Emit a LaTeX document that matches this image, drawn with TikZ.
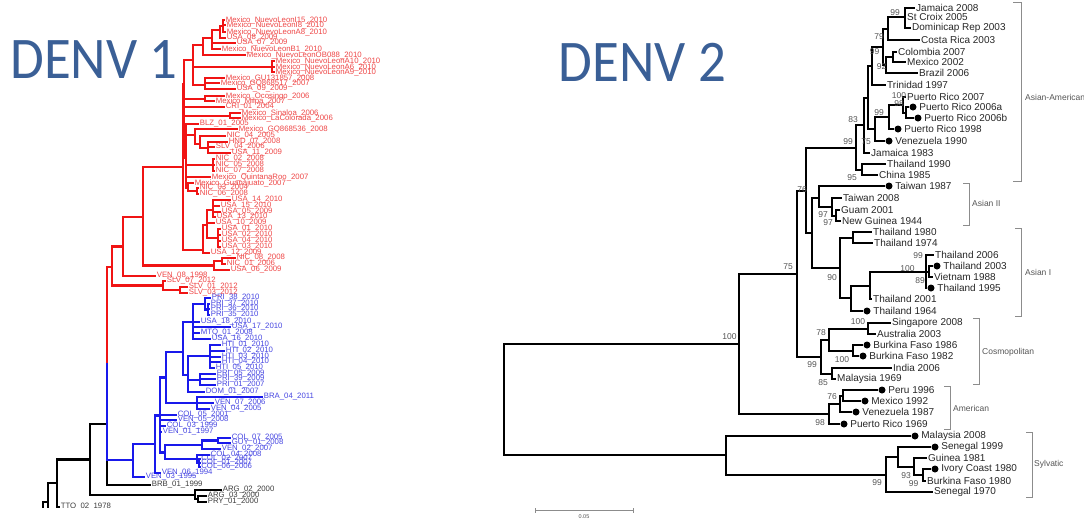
\documentclass[tikz,border=0pt]{standalone}
\usepackage{fontspec}
\setmainfont{Liberation Sans}
\newfontfamily\titlefont{Carlito}
\usetikzlibrary{positioning}

\definecolor{denvblue}{RGB}{58,95,150}
\definecolor{lred}{RGB}{240,20,20}
\definecolor{lblue}{RGB}{25,25,235}
\definecolor{labred}{RGB}{238,70,70}
\definecolor{labblue}{RGB}{70,70,225}
\definecolor{labgray}{RGB}{60,60,60}
\definecolor{bsgray}{RGB}{85,85,85}
\definecolor{brgray}{RGB}{140,140,140}

\tikzset{
  denvtitle/.style={font=\titlefont\fontsize{59}{61}\selectfont, text=denvblue, inner sep=0pt,
    xscale=0.93, transform shape},
  tiplab/.style={anchor=west, inner sep=1pt, font=\fontsize{10}{12}\selectfont, text=black!85},
  tipdot/.style={circle, fill, inner sep=0pt, minimum size=7pt,
    label={[tiplab, label distance=1.5pt]right:#1}},
  bs/.style={font=\fontsize{8.5}{10}\selectfont, text=bsgray, inner sep=0pt},
  cladelab/.style={anchor=west, inner sep=0pt, font=\fontsize{8.5}{10}\selectfont, text=bsgray},
  bracket/.style={draw=brgray, line width=0.8pt},
  branch/.style={draw=black, line width=2pt},
  smlab/.style={anchor=west, inner sep=0.6pt, font=\fontsize{7.8}{8}\selectfont},
  redlab/.style={smlab, text=labred},
  bluelab/.style={smlab, text=labblue},
  blklab/.style={smlab, text=labgray},
  redbr/.style={draw=lred, line width=2.3pt},
  bluebr/.style={draw=lblue, line width=2.3pt},
  blkbr/.style={draw=black, line width=2.3pt},
}

\begin{document}
\begin{tikzpicture}[x=1pt, y=-1pt]
  \useasboundingbox (0,0) rectangle (1084,523);

  % titles
  \node[denvtitle] (denv1) at (94,60) {DENV 1};
  \node[denvtitle] (denv2) at (642.5,62.5) {DENV 2};

  % ---------------- DENV 1 ----------------
  \begin{scope}
    \clip (0,0) rectangle (480,507.5);

    % internal nodes
    \coordinate (k4) at (43,515);
    \coordinate (k3) at (48,502);
    \coordinate (k2) at (57,483);
    \coordinate (k1) at (90,459.5);
    \coordinate (kz1) at (62,521);
    \coordinate (kz2) at (62,530);
    \coordinate (k5) at (195,495);
    \coordinate (k6) at (198,499);
    \coordinate (N1) at (107,424);
    \coordinate (N2) at (107,363);

    \coordinate (R1) at (112,267);
    \coordinate (R2) at (123,246.5);
    \coordinate (R3) at (143,217);
    \coordinate (R4) at (183,167);
    \coordinate (R7) at (163,285.5);
    \coordinate (R8) at (180,290);
    \coordinate (R9) at (214,265.5);
    \coordinate (R10) at (222,261);
    \coordinate (R11) at (184,84);
    \coordinate (R12) at (203,250);
    \coordinate (R35) at (207,225);
    \coordinate (R36) at (213,210);
    \coordinate (R38) at (218,238);
    \coordinate (R16) at (193,60);
    \coordinate (R23) at (203,45);
    \coordinate (R24) at (212,38);
    \coordinate (R25) at (220,30);
    \coordinate (R26) at (223,26);
    \coordinate (R27) at (272,67);
    \coordinate (R28) at (205,85);
    \coordinate (R20) at (205,99);
    \coordinate (R21) at (230,116);
    \coordinate (R22) at (186,158);
    \coordinate (R29) at (195,135);
    \coordinate (R30) at (200,144);
    \coordinate (R31) at (208,148);
    \coordinate (R32) at (213,165);
    \coordinate (R33) at (188,188);
    \coordinate (R34) at (197,191);

    \coordinate (B1) at (133,460);
    \coordinate (B2) at (155,444);
    \coordinate (B3) at (160,415.5);
    \coordinate (B4) at (166,377.5);
    \coordinate (B5) at (165,452.5);
    \coordinate (B6) at (183,352);
    \coordinate (B7) at (197,403);
    \coordinate (B8) at (193,322);
    \coordinate (B9) at (188,375);
    \coordinate (B10) at (205,304);
    \coordinate (B11) at (208,309.5);
    \coordinate (B12) at (210,356);
    \coordinate (B13) at (200,380);
    \coordinate (B14) at (202,445);
    \coordinate (B15) at (197,459);
    \coordinate (B16) at (218,440.5);
    \coordinate (B17) at (199,463);

    % red tips
    \node[redlab] (nl15) at (225,20) {Mexico\_NuevoLeonI15\_2010};
    \node[redlab] (nl8) at (226,25) {Mexico\_NuevoLeonI8\_2010};
    \node[redlab] (nla8) at (226,32) {Mexico\_NuevoLeonA8\_2010};
    \node[redlab] (usa08) at (226,38) {USA\_08\_2009};
    \node[redlab] (usa07) at (236,43) {USA\_07\_2009};
    \node[redlab] (nlb1) at (221,49) {Mexico\_NuevoLeonB1\_2010};
    \node[redlab] (nlob) at (246,55) {Mexico\_NuevoLeonOB088\_2010};
    \node[redlab] (nla10) at (275,61) {Mexico\_NuevoLeonA10\_2010};
    \node[redlab] (nla6) at (275,67) {Mexico\_NuevoLeonA6\_2010};
    \node[redlab] (nla9) at (275,72) {Mexico\_NuevoLeonA9\_2010};
    \node[redlab] (gu13) at (225,78) {Mexico\_GU131857\_2008};
    \node[redlab] (gq17) at (220,83) {Mexico\_GQ868517\_2007};
    \node[redlab] (usa09) at (236,89) {USA\_09\_2009};
    \node[redlab] (oco) at (225,96) {Mexico\_Ocosingo\_2006};
    \node[redlab] (mil) at (215,101) {Mexico\_Milpa\_2007};
    \node[redlab] (cri) at (225,107) {CRI\_01\_2004};
    \node[redlab] (sin) at (241,113) {Mexico\_Sinaloa\_2006};
    \node[redlab] (lac) at (241,118) {Mexico\_LaColorada\_2006};
    \node[redlab] (blz) at (199,124) {BLZ\_01\_2005};
    \node[redlab] (gq36) at (238,129) {Mexico\_GQ868536\_2008};
    \node[redlab] (nic04) at (226,136) {NIC\_04\_2005};
    \node[redlab] (hnd07) at (228,142) {HND\_07\_2008};
    \node[redlab] (slv04) at (215,147) {SLV\_04\_2006};
    \node[redlab] (usa11) at (231,153) {USA\_11\_2009};
    \node[redlab] (nic02) at (215,159) {NIC\_02\_2008};
    \node[redlab] (nic05) at (215,165) {NIC\_05\_2008};
    \node[redlab] (nic07) at (215,171) {NIC\_07\_2008};
    \node[redlab] (qroo) at (211,177) {Mexico\_QuintanaRoo\_2007};
    \node[redlab] (gto) at (194,183) {Mexico\_Guanajuato\_2007};
    \node[redlab] (nic03) at (199,188) {NIC\_03\_2004};
    \node[redlab] (nic06) at (199,194) {NIC\_06\_2008};
    \node[redlab] (usa14) at (231,200) {USA\_14\_2010};
    \node[redlab] (usa15) at (220,206) {USA\_15\_2010};
    \node[redlab] (usa05) at (221,212) {USA\_05\_2009};
    \node[redlab] (usa13) at (216,217) {USA\_13\_2010};
    \node[redlab] (usa10) at (215,223) {USA\_10\_2009};
    \node[redlab] (usa01) at (221,229) {USA\_01\_2010};
    \node[redlab] (usa02) at (221,235) {USA\_02\_2010};
    \node[redlab] (usa04) at (221,241) {USA\_04\_2010};
    \node[redlab] (usa03) at (221,247) {USA\_03\_2010};
    \node[redlab] (usa12) at (210,253) {USA\_12\_2009};
    \node[redlab] (nic08) at (236,258) {NIC\_08\_2008};
    \node[redlab] (nic01) at (226,264) {NIC\_01\_2006};
    \node[redlab] (usa06) at (230,270) {USA\_06\_2009};
    \node[redlab] (ven08) at (156,276) {VEN\_08\_1998};
    \node[redlab] (slv07) at (166,281) {SLV\_07\_2012};
    \node[redlab] (slv01) at (188,287) {SLV\_01\_2012};
    \node[redlab] (slv03) at (188,293) {SLV\_03\_2012};

    % blue tips
    \node[bluelab] (pri38) at (211,298) {PRI\_38\_2010};
    \node[bluelab] (pri37) at (210,304) {PRI\_37\_2010};
    \node[bluelab] (pri36) at (210,309) {PRI\_36\_2010};
    \node[bluelab] (pri35) at (210,315) {PRI\_35\_2010};
    \node[bluelab] (usa18) at (200,322) {USA\_18\_2010};
    \node[bluelab] (usa17) at (231,327) {USA\_17\_2010};
    \node[bluelab] (mtq) at (200,333) {MTQ\_01\_2008};
    \node[bluelab] (usa16) at (211,339) {USA\_16\_2010};
    \node[bluelab] (hti01) at (221,345) {HTI\_01\_2010};
    \node[bluelab] (hti02) at (225,351) {HTI\_02\_2010};
    \node[bluelab] (hti03) at (221,357) {HTI\_03\_2010};
    \node[bluelab] (hti04) at (221,362) {HTI\_04\_2010};
    \node[bluelab] (hti05) at (215,368) {HTI\_05\_2010};
    \node[bluelab] (pri05) at (216,374) {PRI\_05\_2009};
    \node[bluelab] (pri39) at (216,379) {PRI\_39\_2009};
    \node[bluelab] (pri01) at (216,385) {PRI\_01\_2007};
    \node[bluelab] (dom) at (205,392) {DOM\_01\_2007};
    \node[bluelab] (bra) at (263,397) {BRA\_04\_2011};
    \node[bluelab] (ven07) at (214,403) {VEN\_07\_2006};
    \node[bluelab] (ven04) at (210,409) {VEN\_04\_2005};
    \node[bluelab] (col05) at (177,415) {COL\_05\_2001};
    \node[bluelab] (ven05) at (177,420) {VEN\_05\_2008};
    \node[bluelab] (col03) at (166,426) {COL\_03\_1999};
    \node[bluelab] (ven01) at (162,432) {VEN\_01\_1997};
    \node[bluelab] (col07) at (231,438) {COL\_07\_2005};
    \node[bluelab] (guy) at (231,443) {GUY\_01\_2008};
    \node[bluelab] (ven02) at (221,449) {VEN\_02\_2007};
    \node[bluelab] (col04) at (210,455) {COL\_04\_2008};
    \node[bluelab] (col02) at (200.5,459) {COL\_02\_2007};
    \node[bluelab] (col01) at (200.5,463) {COL\_01\_2007};
    \node[bluelab] (col06) at (200.5,467) {COL\_06\_2006};
    \node[bluelab] (ven06) at (161,473) {VEN\_06\_1994};
    \node[bluelab] (ven03) at (145,477) {VEN\_03\_1995};

    % black tips
    \node[blklab] (brb) at (151,485) {BRB\_01\_1999};
    \node[blklab] (arg02) at (222,490) {ARG\_02\_2000};
    \node[blklab] (arg03) at (207,496) {ARG\_03\_2000};
    \node[blklab] (pry) at (207,502) {PRY\_01\_2000};
    \node[blklab] (tto) at (60,507) {TTO\_02\_1978};

    % branches
    \draw[blkbr] (k4) |- (k3) (k4) |- (kz2)
      (k3) |- (k2) (k3) |- (kz1)
      (k2) |- (k1) (k2) |- (tto)
      (k1) |- (N1) (k1) |- (k5)
      (k5) |- (arg02) (k5) |- (k6)
      (k6) |- (arg03) (k6) |- (pry)
      (N1) |- (N2) (N1) |- (brb);

    \draw[bluebr] (N2) |- (B1)
      (B1) |- (B2) (B1) |- (ven03)
      (B2) |- (B3) (B2) |- (ven06)
      (B3) |- (B4) (B3) |- (B5) (B3) |- (col05) (B3) |- (ven05) (B3) |- (col03) (B3) |- (ven01)
      (B4) |- (B6) (B4) |- (B7)
      (B7) |- (bra) (B7) |- (ven07) (B7) |- (ven04)
      (B6) |- (B8) (B6) |- (B9)
      (B8) |- (B10) (B8) |- (usa18) (B8) |- (usa17) (B8) |- (mtq) (B8) |- (usa16)
      (B10) |- (pri38) (B10) |- (B11)
      (B11) |- (pri37) (B11) |- (pri36) (B11) |- (pri35)
      (B9) |- (B12) (B9) |- (B13) (B9) |- (dom)
      (B12) |- (hti01) (B12) |- (hti02) (B12) |- (hti03) (B12) |- (hti04) (B12) |- (hti05)
      (B13) |- (pri05) (B13) |- (pri39) (B13) |- (pri01)
      (B5) |- (B14) (B5) |- (B15)
      (B14) |- (B16) (B14) |- (ven02)
      (B16) |- (col07) (B16) |- (guy)
      (B15) |- (col04) (B15) |- (B17)
      (B17) |- (col02) (B17) |- (col01) (B17) |- (col06);

    \draw[redbr] (N2) |- (R1)
      (R1) |- (R2) (R1) |- (R7)
      (R7) |- (slv07) (R7) |- (R8)
      (R8) |- (slv01) (R8) |- (slv03)
      (R2) |- (R3) (R2) |- (ven08)
      (R3) |- (R4) (R3) |- (R9)
      (R9) |- (R10) (R9) |- (usa06)
      (R10) |- (nic08) (R10) |- (nic01)
      (R4) |- (R11) (R4) |- (R12)
      (R12) |- (R35) (R12) |- (usa12)
      (R35) |- (R36) (R35) |- (usa10) (R35) |- (R38)
      (R36) |- (usa14) (R36) |- (usa15) (R36) |- (usa05) (R36) |- (usa13)
      (R38) |- (usa01) (R38) |- (usa02) (R38) |- (usa04) (R38) |- (usa03)
      (R11) |- (R16) (R11) |- (R20) (R11) |- (cri) (R11) |- (R21) (R11) |- (R22)
      (R16) |- (R23) (R16) |- (R27) (R16) |- (R28)
      (R23) |- (R24) (R23) |- (nlob)
      (R24) |- (R25) (R24) |- (usa07) (R24) |- (nlb1)
      (R25) |- (R26) (R25) |- (usa08)
      (R26) |- (nl15) (R26) |- (nl8) (R26) |- (nla8)
      (R27) |- (nla10) (R27) |- (nla6) (R27) |- (nla9)
      (R28) |- (gu13) (R28) |- (gq17) (R28) |- (usa09)
      (R20) |- (oco) (R20) |- (mil)
      (R21) |- (sin) (R21) |- (lac)
      (R22) |- (blz) (R22) |- (R29) (R22) |- (R32) (R22) |- (qroo) (R22) |- (R33)
      (R29) |- (gq36) (R29) |- (R30)
      (R30) |- (nic04) (R30) |- (R31)
      (R31) |- (hnd07) (R31) |- (slv04) (R31) |- (usa11)
      (R32) |- (nic02) (R32) |- (nic05) (R32) |- (nic07)
      (R33) |- (gto) (R33) |- (R34)
      (R34) |- (nic03) (R34) |- (nic06);
  \end{scope}

  % ---------------- DENV 2 ----------------
  % internal nodes
  \coordinate (root) at (504,399.5);
  \coordinate (A) at (739,344);
  \coordinate (S) at (726,455);
  \coordinate (B) at (797,273.75);
  \coordinate (D) at (806,191);
  \coordinate (E) at (812,233);
  \coordinate (F) at (819,198);
  \coordinate (G) at (832,207);
  \coordinate (H) at (836,215.5);
  \coordinate (I) at (840,268);
  \coordinate (K) at (853,237.5);
  \coordinate (J) at (851,298);
  \coordinate (L) at (870,285.5);
  \coordinate (M) at (926,272);
  \coordinate (N) at (929,271.5);
  \coordinate (AA) at (856,147.5);
  \coordinate (P) at (864,125);
  \coordinate (Q) at (862,170);
  \coordinate (R) at (868,97.5);
  \coordinate (TF) at (872,66);
  \coordinate (TE) at (883,47);
  \coordinate (TB) at (888,28.5);
  \coordinate (TA) at (905,17);
  \coordinate (TD) at (886,65);
  \coordinate (TC) at (893,57);
  \coordinate (PD) at (875,129);
  \coordinate (PC) at (889,117);
  \coordinate (PA) at (903,105);
  \coordinate (PB) at (906,112.5);
  \coordinate (C) at (821,356.5);
  \coordinate (CA) at (829,339.5);
  \coordinate (CB) at (868,328.5);
  \coordinate (CC) at (853,350.5);
  \coordinate (CD) at (832,373.5);
  \coordinate (Am) at (829,414);
  \coordinate (AmC) at (840,403.75);
  \coordinate (AmB) at (843,395.5);
  \coordinate (S2) at (886,474.5);
  \coordinate (S3) at (898,457);
  \coordinate (S4) at (914,467);
  \coordinate (S5) at (923,475);

  % tips
  \node[tiplab] (jam08) at (915,8) {Jamaica 2008};
  \node[tiplab] (stc05) at (906,17) {St Croix 2005};
  \node[tiplab] (dom03) at (911,28) {Dominicap Rep 2003};
  \node[tiplab] (cr03) at (920,40) {Costa Rica 2003};
  \node[tiplab] (col07r) at (897,52) {Colombia 2007};
  \node[tiplab] (mex02) at (906,62) {Mexico 2002};
  \node[tiplab] (bra06) at (918,73) {Brazil 2006};
  \node[tiplab] (tri97) at (886,85) {Trinidad 1997};
  \node[tiplab] (pr07) at (906,97) {Puerto Rico 2007};
  \node[tipdot={Puerto Rico 2006a}] (pr06a) at (913,107) {};
  \node[tipdot={Puerto Rico 2006b}] (pr06b) at (918,118) {};
  \node[tipdot={Puerto Rico 1998}] (pr98) at (898,129) {};
  \node[tipdot={Venezuela 1990}] (ven90) at (889,141) {};
  \node[tiplab] (jam83) at (870,153) {Jamaica 1983};
  \node[tiplab] (tha90) at (886,164) {Thailand 1990};
  \node[tiplab] (chi85) at (878,175) {China 1985};
  \node[tipdot={Taiwan 1987}] (tai87) at (889,186) {};
  \node[tiplab] (tai08) at (842,198) {Taiwan 2008};
  \node[tiplab] (gua01) at (840,210) {Guam 2001};
  \node[tiplab] (ng44) at (841,221) {New Guinea 1944};
  \node[tiplab] (tha80) at (872,232) {Thailand 1980};
  \node[tiplab] (tha74) at (873,243) {Thailand 1974};
  \node[tiplab] (tha06) at (934,255) {Thailand 2006};
  \node[tipdot={Thailand 2003}] (tha03) at (937,266) {};
  \node[tiplab] (vie88) at (933,277) {Vietnam 1988};
  \node[tipdot={Thailand 1995}] (tha95) at (931,288) {};
  \node[tiplab] (tha01) at (872,299) {Thailand 2001};
  \node[tipdot={Thailand 1964}] (tha64) at (867,311) {};
  \node[tiplab] (sin08) at (891,323) {Singapore 2008};
  \node[tiplab] (aus03) at (876,334) {Australia 2003};
  \node[tipdot={Burkina Faso 1986}] (bf86) at (867,345) {};
  \node[tipdot={Burkina Faso 1982}] (bf82) at (863,356) {};
  \node[tiplab] (ind06) at (892,368) {India 2006};
  \node[tiplab] (mal69) at (836,379) {Malaysia 1969};
  \node[tipdot={Peru 1996}] (per96) at (882,390) {};
  \node[tipdot={Mexico 1992}] (mex92) at (865,401) {};
  \node[tipdot={Venezuela 1987}] (ven87) at (856,412) {};
  \node[tipdot={Puerto Rico 1969}] (pr69) at (844,424) {};
  \node[tipdot={Malaysia 2008}] (mal08) at (915,436) {};
  \node[tipdot={Senegal 1999}] (sen99) at (935,447) {};
  \node[tiplab] (gui81) at (927,458) {Guinea 1981};
  \node[tipdot={Ivory Coast 1980}] (ic80) at (935,469) {};
  \node[tiplab] (bf80) at (926,481) {Burkina Faso 1980};
  \node[tiplab] (sen70) at (933,492) {Senegal 1970};

  % branches
  \draw[branch] (root) |- (A) (root) |- (S)
    (A) |- (B) (A) |- (Am)
    (B) |- (D) (B) |- (C)
    (D) |- (AA) (D) |- (E)
    (AA) |- (P) (AA) |- (Q)
    (P) |- (R) (P) |- (jam83)
    (R) |- (TF) (R) |- (PD)
    (TF) |- (TE) (TF) |- (tri97)
    (TE) |- (TB) (TE) |- (TD)
    (TB) |- (TA) (TB) |- (cr03)
    (TA) |- (jam08) (TA) |- (stc05) (TA) |- (dom03)
    (TD) |- (TC) (TD) |- (bra06)
    (TC) |- (col07r) (TC) |- (mex02)
    (PD) |- (PC) (PD) |- (ven90)
    (PC) |- (PA) (PC) |- (pr98)
    (PA) |- (pr07) (PA) |- (PB)
    (PB) |- (pr06a) (PB) |- (pr06b)
    (Q) |- (tha90) (Q) |- (chi85)
    (E) |- (F) (E) |- (I)
    (F) |- (tai87) (F) |- (G)
    (G) |- (tai08) (G) |- (H)
    (H) |- (gua01) (H) |- (ng44)
    (I) |- (K) (I) |- (J)
    (K) |- (tha80) (K) |- (tha74)
    (J) |- (L) (J) |- (tha64)
    (L) |- (M) (L) |- (tha01)
    (M) |- (tha06) (M) |- (N) (M) |- (tha95)
    (N) |- (tha03) (N) |- (vie88)
    (C) |- (CA) (C) |- (CD)
    (CA) |- (CB) (CA) |- (CC)
    (CB) |- (sin08) (CB) |- (aus03)
    (CC) |- (bf86) (CC) |- (bf82)
    (CD) |- (ind06) (CD) |- (mal69)
    (Am) |- (AmC) (Am) |- (pr69)
    (AmC) |- (AmB) (AmC) |- (ven87)
    (AmB) |- (per96) (AmB) |- (mex92)
    (S) |- (mal08) (S) |- (S2)
    (S2) |- (S3) (S2) |- (sen70)
    (S3) |- (sen99) (S3) |- (S4)
    (S4) |- (gui81) (S4) |- (S5)
    (S5) |- (ic80) (S5) |- (bf80);

  % support values
  \node[bs] (bs1) at (729.5,337) {100};
  \node[bs] (bs2) at (788,267) {75};
  \node[bs] (bs3) at (802,190) {76};
  \node[bs] (bs4) at (823,215) {97};
  \node[bs] (bs5) at (828,223) {97};
  \node[bs] (bs6) at (832,278) {90};
  \node[bs] (bs7) at (918,256) {99};
  \node[bs] (bs8) at (907.5,269) {100};
  \node[bs] (bs9) at (920,281) {89};
  \node[bs] (bs10) at (848,142) {99};
  \node[bs] (bs11) at (853,120) {83};
  \node[bs] (bs12) at (852,178) {95};
  \node[bs] (bs13) at (895,13) {99};
  \node[bs] (bs14) at (879,37) {79};
  \node[bs] (bs15) at (874.5,52) {99};
  \node[bs] (bs16) at (881.5,67) {92};
  \node[bs] (bs17) at (866,142) {75};
  \node[bs] (bs18) at (879,113) {99};
  \node[bs] (bs19) at (899,96) {100};
  \node[bs] (bs20) at (899,104) {98};
  \node[bs] (bs21) at (858,322) {100};
  \node[bs] (bs22) at (821,333) {78};
  \node[bs] (bs23) at (842,360) {100};
  \node[bs] (bs24) at (812,365) {99};
  \node[bs] (bs25) at (823,383) {85};
  \node[bs] (bs26) at (832,397) {76};
  \node[bs] (bs27) at (820,423) {98};
  \node[bs] (bs28) at (877,483) {99};
  \node[bs] (bs29) at (906,476) {93};
  \node[bs] (bs30) at (913.5,484) {99};

  % clade brackets
  \draw[bracket] (1013,2) -- (1021,2) -- (1021,181) -- (1013,181);
  \node[cladelab] (asam) at (1025,97) {Asian-American};
  \draw[bracket] (963,183) -- (969,183) -- (969,225) -- (963,225);
  \node[cladelab] (as2) at (972,203) {Asian II};
  \draw[bracket] (1015,228) -- (1021,228) -- (1021,316) -- (1015,316);
  \node[cladelab] (as1) at (1025,272) {Asian I};
  \draw[bracket] (973,318) -- (979,318) -- (979,384) -- (973,384);
  \node[cladelab] (cosmo) at (982,352) {Cosmopolitan};
  \draw[bracket] (944,386) -- (950,386) -- (950,429) -- (944,429);
  \node[cladelab] (amer) at (953,408) {American};
  \draw[bracket] (1026,432) -- (1032,432) -- (1032,497) -- (1026,497);
  \node[cladelab] (sylv) at (1034,464) {Sylvatic};

  % scale bar
  \coordinate (sc1) at (535,510);
  \coordinate (sc2) at (633,510);
  \draw[draw=brgray, line width=0.8pt] (sc1) -- (sc2)
    ([yshift=-2.5pt]sc1) -- ([yshift=2.5pt]sc1)
    ([yshift=-2.5pt]sc2) -- ([yshift=2.5pt]sc2);
  \node[font=\fontsize{5.5}{6}\selectfont, text=bsgray, inner sep=0pt] (scl) at (584,517) {0.05};
\end{tikzpicture}
\end{document}
